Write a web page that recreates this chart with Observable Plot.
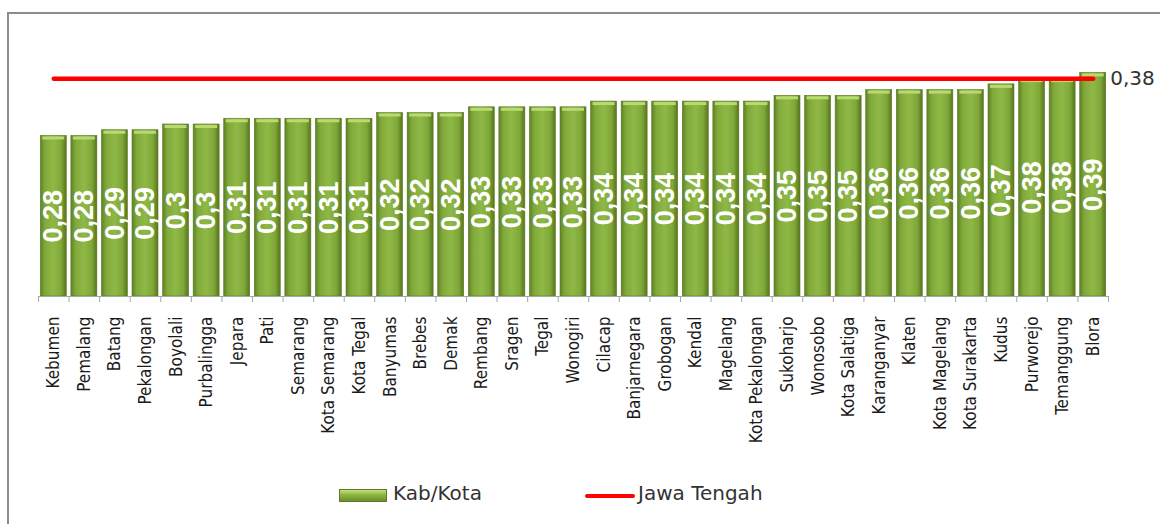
<!DOCTYPE html>
<html>
<head>
<meta charset="utf-8">
<script src="https://cdn.jsdelivr.net/npm/d3@7"></script>
<script src="https://cdn.jsdelivr.net/npm/@observablehq/plot@0.6"></script>
<style>
  html, body { margin: 0; padding: 0; background: #fff; }
  #wrap { position: relative; width: 1160px; height: 524px; overflow: hidden; }
  #frame { position: absolute; left: 7px; top: 12px; width: 1200px; height: 600px;
           border-left: 2px solid #8c8c8c; border-top: 2px solid #8c8c8c; box-sizing: border-box; }
  #chart { position: absolute; left: 0; top: 0; }
  #legend { position: absolute; left: 0; top: 480px; width: 1160px; height: 30px;
            font-family: "DejaVu Sans", sans-serif; font-size: 20px; color: #333; }
  .sw { position: absolute; }
</style>
</head>
<body>
<div id="wrap">
  <div id="frame"></div>
  <div id="chart"></div>
  <div id="legend">
    <div class="sw" style="left:339px; top:9px; width:48px; height:13px; background: linear-gradient(#c3e07a, #8db443 45%, #6b8e2a); border:1px solid #5d7b22; box-sizing:border-box;"></div>
    <div class="sw" style="left:393px; top:1px;">Kab/Kota</div>
    <div class="sw" style="left:585px; top:14px; width:50px; height:4px; background:#ff0000; border-radius:2px;"></div>
    <div class="sw" style="left:638px; top:1px;">Jawa Tengah</div>
  </div>
</div>
<script>
const categories = ["Kebumen","Pemalang","Batang","Pekalongan","Boyolali","Purbalingga","Jepara","Pati","Semarang","Kota Semarang","Kota Tegal","Banyumas","Brebes","Demak","Rembang","Sragen","Tegal","Wonogiri","Cilacap","Banjarnegara","Grobogan","Kendal","Magelang","Kota Pekalongan","Sukoharjo","Wonosobo","Kota Salatiga","Karanganyar","Klaten","Kota Magelang","Kota Surakarta","Kudus","Purworejo","Temanggung","Blora"];
const kabKota = [0.28,0.28,0.29,0.29,0.30,0.30,0.31,0.31,0.31,0.31,0.31,0.32,0.32,0.32,0.33,0.33,0.33,0.33,0.34,0.34,0.34,0.34,0.34,0.34,0.35,0.35,0.35,0.36,0.36,0.36,0.36,0.37,0.38,0.38,0.39];
const jawaTengah = 0.38;

const data = categories.map((c, i) => ({name: c, v: kabKota[i]}));
const provLine = categories.map(c => ({name: c, v: jawaTengah}));
const fmt = v => String(+v.toFixed(2)).replace(".", ",");

const W = 1160, H = 470, mL = 38, mR = 52, mT = 38, mB = H - 296;
const step = (W - mL - mR) / categories.length;

const plot = Plot.plot({
  width: W, height: H,
  marginLeft: mL, marginRight: mR, marginTop: mT, marginBottom: mB,
  style: {background: "transparent", overflow: "visible"},
  x: {domain: categories, paddingInner: 0.15, paddingOuter: 0.075, round: false, label: null},
  y: {domain: [0, 0.45], axis: null, label: null},
  marks: [
    Plot.barY(data, {x: "name", y: "v", fill: "url(#barGrad)", stroke: "#5a7a20", strokeWidth: 0.6}),
    Plot.tickY(data, {x: "name", y: "v", stroke: "#b9da70", strokeWidth: 3, dy: 2, insetLeft: 2, insetRight: 2}),
    Plot.ruleY([0], {stroke: "#a6a6a6", strokeWidth: 1}),
    Plot.axisX({tickSize: 6, tickFormat: () => "", dx: -step / 2, stroke: "#a6a6a6"}),
    Plot.axisX([categories[categories.length - 1]], {tickSize: 6, tickFormat: () => "", dx: step / 2, stroke: "#a6a6a6"}),
    Plot.axisX({tickSize: 0, tickPadding: 20, tickRotate: -90, fontSize: 17,
      fontFamily: "'DejaVu Sans Condensed', 'DejaVu Sans', sans-serif", fill: "#1a1a1a"}),
    Plot.text(data, {x: "name", y: d => d.v / 2, text: d => fmt(d.v), rotate: -90,
      fill: "white", fontWeight: "bold", fontSize: 27, ariaLabel: "values",
      fontFamily: "'Liberation Sans', Arial, sans-serif"}),
    Plot.line(provLine, {x: "name", y: "v", stroke: "#ff0000", strokeWidth: 4.5, strokeLinecap: "round"}),
    Plot.text([provLine[provLine.length - 1]], {x: "name", y: "v", text: d => fmt(d.v), dx: 17,
      textAnchor: "start", fontSize: 20, fontFamily: "'DejaVu Sans', sans-serif", fill: "#333"})
  ]
});

const svg = d3.select(plot);
const defs = svg.insert("defs", ":first-child");
const g = defs.append("linearGradient").attr("id", "barGrad").attr("x1", 0).attr("x2", 1).attr("y1", 0).attr("y2", 0);
[["0%", "#5f8224"], ["18%", "#80a93a"], ["50%", "#8fb946"], ["80%", "#7fa739"], ["100%", "#56761d"]]
  .forEach(([o, c]) => g.append("stop").attr("offset", o).attr("stop-color", c));
// condense the in-bar value labels along their (vertical) reading direction
svg.selectAll('g[aria-label="values"] text').each(function() {
  const t = this.getAttribute("transform") || "";
  this.setAttribute("transform", t + " scale(0.8,1)");
});
document.getElementById("chart").appendChild(plot);
</script>
</body>
</html>
